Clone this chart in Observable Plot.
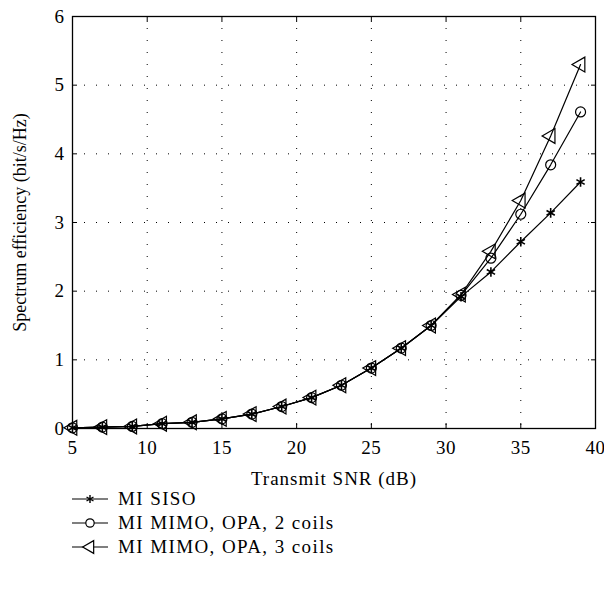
<!DOCTYPE html>
<html><head><meta charset="utf-8">
<script src="https://cdn.jsdelivr.net/npm/d3@7"></script>
<script src="https://cdn.jsdelivr.net/npm/@observablehq/plot@0.6"></script>
<style>
body{margin:0;background:#fff;font-family:'Liberation Serif',serif;}
#chart svg text{font-family:'Liberation Serif',serif;}
#legend{margin-left:72px;font-size:19px;letter-spacing:1.4px;color:#000;margin-top:-3px}
.row{display:flex;align-items:center;height:24px}
.row svg{margin-right:10px}
</style></head><body>
<div id="chart"></div>
<div id="legend"></div>
<script>
const snr = [5,7,9,11,13,15,17,19,21,23,25,27,29,31,33,35,37,39];
const siso  = [0.01,0.02,0.03,0.07,0.09,0.14,0.21,0.32,0.45,0.63,0.88,1.17,1.50,1.92,2.28,2.72,3.14,3.59];
const mimo2 = [0.01,0.02,0.03,0.07,0.09,0.14,0.21,0.32,0.45,0.63,0.88,1.17,1.50,1.94,2.48,3.12,3.84,4.61];
const mimo3 = [0.01,0.02,0.03,0.07,0.09,0.14,0.21,0.32,0.45,0.63,0.88,1.17,1.50,1.95,2.58,3.32,4.26,5.30];
const seriesNames = ["MI SISO","MI MIMO, OPA, 2 coils","MI MIMO, OPA, 3 coils"];
const xTicks = [5,10,15,20,25,30,35,40];
const yTicks = [0,1,2,3,4,5,6];

const data = [];
[siso,mimo2,mimo3].forEach((arr,i)=>arr.forEach((v,j)=>data.push({x:snr[j],y:v,s:seriesNames[i]})));
const d0 = data.filter(d=>d.s===seriesNames[0]);
const d1 = data.filter(d=>d.s===seriesNames[1]);
const d2 = data.filter(d=>d.s===seriesNames[2]);

const chart = Plot.plot({
  width:604, height:490,
  marginTop:16, marginLeft:72, marginRight:9, marginBottom:62,
  style:"font-family:'Liberation Serif',serif;font-size:19px;color:#000;background:#fff;",
  x:{domain:[5,40]},
  y:{domain:[0,6]},
  marks:[
    Plot.gridX(xTicks.slice(1,-1),{stroke:"#000",strokeOpacity:1,strokeDasharray:"1,11",strokeWidth:1}),
    Plot.gridY(yTicks.slice(1,-1),{stroke:"#000",strokeOpacity:1,strokeDasharray:"1,11",strokeWidth:1}),
    Plot.axisX(xTicks,{anchor:"bottom",tickSize:-5,tickPadding:17,tickFormat:d3.format("d"),label:"Transmit SNR (dB)",labelAnchor:"center",labelArrow:"none",labelOffset:56}),
    Plot.axisX(xTicks,{anchor:"top",tickSize:-5,tickFormat:()=>"",label:null}),
    Plot.axisY(yTicks,{anchor:"left",tickSize:-5,tickPadding:13,tickFormat:d3.format("d"),label:"Spectrum efficiency (bit/s/Hz)",labelAnchor:"center",labelArrow:"none",labelOffset:59}),
    Plot.axisY(yTicks,{anchor:"right",tickSize:-5,tickFormat:()=>"",label:null}),
    Plot.frame({stroke:"#000",strokeWidth:1.3}),
    Plot.line(d0,{x:"x",y:"y",stroke:"#000",strokeWidth:1.2}),
    Plot.line(d1,{x:"x",y:"y",stroke:"#000",strokeWidth:1.2}),
    Plot.line(d2,{x:"x",y:"y",stroke:"#000",strokeWidth:1.2}),
    Plot.dot(d0,{x:"x",y:"y",symbol:"asterisk",r:4.5,stroke:"#000",strokeWidth:1.6}),
    Plot.dot(d1,{x:"x",y:"y",symbol:"circle",r:5,stroke:"#000",fill:"none",strokeWidth:1.2}),
    Plot.dot(d2,{x:"x",y:"y",symbol:"triangle",r:5.5,rotate:-90,stroke:"#000",fill:"none",strokeWidth:1.2})
  ]
});
document.getElementById("chart").appendChild(chart);
const svg = d3.select(chart);
svg.selectAll("text").attr("font-size",19).style("letter-spacing","0.5px");
svg.selectAll("[aria-label='x-axis label'] text").attr("font-size",19).style("letter-spacing","1px");
svg.selectAll("[aria-label='y-axis label'] text").attr("font-size",18).style("letter-spacing","0px");

// legend
const syms = [d3.symbolAsterisk, d3.symbolCircle, d3.symbolTriangle];
const sizes = [45, 55, 70];
const rots = [0,0,-90];
const leg = d3.select("#legend");
seriesNames.forEach((n,i)=>{
  const row = leg.append("div").attr("class","row");
  const s = row.append("svg").attr("width",36).attr("height",20);
  s.append("line").attr("x1",0).attr("x2",36).attr("y1",10).attr("y2",10).attr("stroke","#000").attr("stroke-width",1.2);
  s.append("path").attr("d",d3.symbol(syms[i],sizes[i])()).attr("transform",`translate(18,10) rotate(${rots[i]})`)
    .attr("fill",i===0?"#000":"#fff").attr("stroke","#000").attr("stroke-width",i===0?1.4:1.2);
  row.append("span").text(n);
});
</script></body></html>
